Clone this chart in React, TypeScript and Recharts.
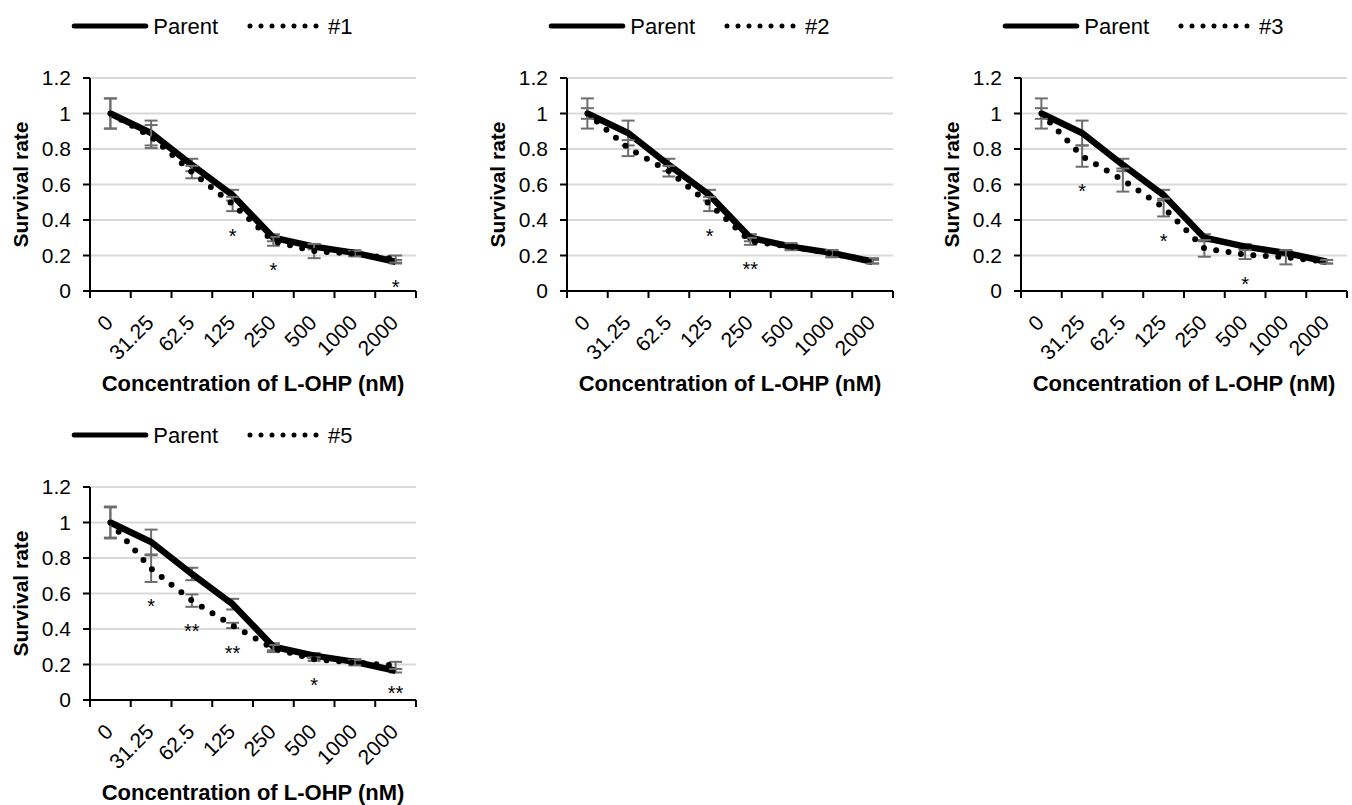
import React from 'react';
import { LineChart, Line, XAxis, YAxis, CartesianGrid, ErrorBar, Legend, LabelList } from 'recharts';

const FONT = '"Liberation Sans", Arial, Helvetica, sans-serif';

// concentration categories (nM)
const concentrations = ['0', '31.25', '62.5', '125', '250', '500', '1000', '2000'];
const yTicks = [0, 0.2, 0.4, 0.6, 0.8, 1, 1.2];

const parentMean = [1.0, 0.89, 0.71, 0.54, 0.3, 0.25, 0.215, 0.165];
const parentErr = [0.085, 0.07, 0.035, 0.03, 0.02, 0.015, 0.015, 0.01];

const clone1Mean = [1.0, 0.87, 0.67, 0.49, 0.28, 0.225, 0.21, 0.18];
const clone1Err = [0.085, 0.065, 0.035, 0.04, 0.025, 0.04, 0.015, 0.02];
const clone1Stars = ['', '', '', '*', '*', '', '', '*'];

const clone2Mean = [1.0, 0.805, 0.675, 0.49, 0.28, 0.25, 0.21, 0.17];
const clone2Err = [0.03, 0.045, 0.03, 0.04, 0.02, 0.02, 0.02, 0.015];
const clone2Stars = ['', '', '', '*', '**', '', '', ''];

const clone3Mean = [1.0, 0.76, 0.625, 0.47, 0.24, 0.205, 0.19, 0.165];
const clone3Err = [0.03, 0.06, 0.065, 0.05, 0.047, 0.025, 0.04, 0.01];
const clone3Stars = ['', '*', '', '*', '', '*', '', ''];

const clone5Mean = [1.0, 0.74, 0.56, 0.42, 0.29, 0.23, 0.21, 0.195];
const clone5Err = [0.09, 0.075, 0.035, 0.015, 0.02, 0.01, 0.015, 0.02];
const clone5Stars = ['', '*', '**', '**', '', '*', '', '**'];

const panels = [
  { name: '#1', mean: clone1Mean, err: clone1Err, stars: clone1Stars, left: 0, top: 0 },
  { name: '#2', mean: clone2Mean, err: clone2Err, stars: clone2Stars, left: 476.7, top: 0 },
  { name: '#3', mean: clone3Mean, err: clone3Err, stars: clone3Stars, left: 930.7, top: 0 },
  { name: '#5', mean: clone5Mean, err: clone5Err, stars: clone5Stars, left: 0, top: 409 },
];

const LegendBox = ({ name }: { name: string }) => (
  <div style={{ height: 78 }}>
    <svg width={300} height={28} style={{ display: 'block', marginTop: 12.7 }}>
      <line x1={5.2} y1={13} x2={76.8} y2={13} stroke="#000" strokeWidth={5} strokeLinecap="round" />
      <text x={84.3} y={20.5} fontSize={22} fontFamily={FONT} fill="#000">Parent</text>
      <line x1={181} y1={13} x2={247.1} y2={13} stroke="#000" strokeWidth={5} strokeLinecap="round" strokeDasharray="0 11" />
      <text x={259} y={20.5} fontSize={22} fontFamily={FONT} fill="#000">{name}</text>
    </svg>
  </div>
);

const XTick = (props: any) => {
  const { x, y, payload, index, visibleTicksCount, width } = props;
  let half = payload && typeof payload.offset === 'number' && payload.offset > 0 ? payload.offset : 0;
  if (!half) half = width && visibleTicksCount ? width / visibleTicksCount / 2 : 20.4;
  return (
    <g>
      <line x1={x - half} y1={y - 7} x2={x - half} y2={y} stroke="#000" strokeWidth={2} />
      {index === visibleTicksCount - 1 && (
        <line x1={x + half} y1={y - 7} x2={x + half} y2={y} stroke="#000" strokeWidth={2} />
      )}
      <text
        transform={`translate(${x + 4},${y + 26}) rotate(-45)`}
        textAnchor="end"
        fontSize={21}
        fontFamily={FONT}
        fill="#000"
      >
        {payload.value}
      </text>
    </g>
  );
};

const StarLabel = (props: any) => {
  const { x, y, value } = props;
  if (!value) return null;
  return (
    <text x={x} y={y + 31.5} textAnchor="middle" fontSize={20} fontFamily={FONT} fill="#000">
      {value}
    </text>
  );
};

const Panel = ({ name, mean, err, stars }: { name: string; mean: number[]; err: number[]; stars: string[] }) => {
  const rows = concentrations.map((c, i) => ({
    conc: c,
    parent: parentMean[i],
    parentErr: parentErr[i],
    clone: mean[i],
    cloneErr: err[i],
    star: stars[i],
  }));

  return (
    <LineChart width={440} height={400} data={rows} margin={{ top: 0, right: 24, bottom: 4, left: 8 }}>
      <CartesianGrid vertical={false} stroke="#d9d9d9" strokeWidth={2} />
      <Legend
        verticalAlign="top"
        align="left"
        height={78}
        wrapperStyle={{ left: 69, width: 320 }}
        content={() => <LegendBox name={name} />}
      />
      <XAxis
        dataKey="conc"
        scale="band"
        interval={0}
        height={105}
        tickSize={7}
        tickMargin={0}
        tickLine={false}
        axisLine={{ stroke: '#000', strokeWidth: 2 }}
        tick={<XTick />}
        label={{
          value: 'Concentration of L-OHP (nM)',
          position: 'insideBottom',
          offset: 5,
          style: { fontSize: 22, fontWeight: 'bold', fill: '#000', fontFamily: FONT },
        }}
      />
      <YAxis
        width={82}
        domain={[0, 1.2]}
        ticks={yTicks}
        allowDataOverflow
        tickSize={7}
        tickMargin={12}
        axisLine={{ stroke: '#000', strokeWidth: 2 }}
        tickLine={{ stroke: '#000', strokeWidth: 2 }}
        tick={{ fontSize: 21, fill: '#000', fontFamily: FONT }}
        label={{
          value: 'Survival rate',
          angle: -90,
          position: 'insideLeft',
          offset: 12.5,
          style: { textAnchor: 'middle', fontSize: 21, fontWeight: 'bold', fill: '#000', fontFamily: FONT },
        }}
      />
      <Line type="linear" dataKey="parent" stroke="#000" strokeWidth={6.5} dot={false} activeDot={false} isAnimationActive={false}>
        <ErrorBar dataKey="parentErr" width={6.5} stroke="#6e6e6e" strokeWidth={2} isAnimationActive={false} />
      </Line>
      <Line
        type="linear"
        dataKey="clone"
        stroke="#000"
        strokeWidth={6}
        strokeDasharray="0 12.5"
        strokeLinecap="round"
        dot={false}
        activeDot={false}
        isAnimationActive={false}
      >
        <ErrorBar dataKey="cloneErr" width={6.5} stroke="#6e6e6e" strokeWidth={2} isAnimationActive={false} />
      </Line>
      <Line
        type="linear"
        dataKey={(d: any) => d.clone - d.cloneErr}
        stroke="none"
        dot={false}
        activeDot={false}
        legendType="none"
        isAnimationActive={false}
      >
        <LabelList dataKey="star" content={<StarLabel />} />
      </Line>
    </LineChart>
  );
};

export default function App() {
  return (
    <div style={{ position: 'absolute', left: 0, top: 0, width: 1352, height: 805, overflow: 'hidden', background: '#fff' }}>
      {panels.map((p) => (
        <div key={p.name} style={{ position: 'absolute', left: p.left, top: p.top }}>
          <Panel name={p.name} mean={p.mean} err={p.err} stars={p.stars} />
        </div>
      ))}
    </div>
  );
}
